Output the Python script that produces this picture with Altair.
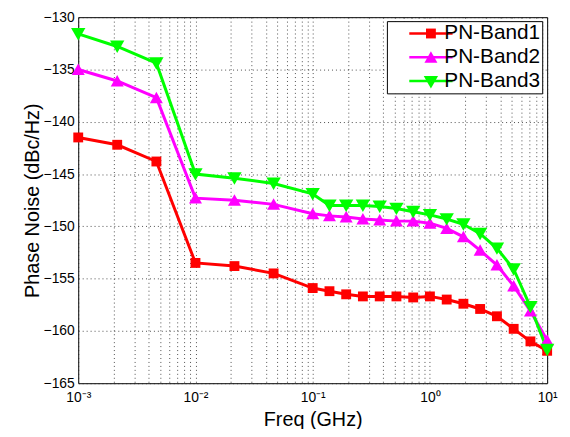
import altair as alt
import pandas as pd

# ---- data ----
freq = [0.001, 0.00215, 0.00464, 0.01, 0.0215, 0.0464, 0.1, 0.139, 0.193, 0.268,
        0.373, 0.518, 0.720, 1.0, 1.39, 1.93, 2.68, 3.73, 5.18, 7.20, 10.0]
band1 = [-141.5, -142.2, -143.8, -153.5, -153.8, -154.5, -155.9, -156.2, -156.5, -156.7,
         -156.7, -156.7, -156.8, -156.7, -157.0, -157.4, -157.9, -158.6, -159.8, -161.0, -161.9]
band2 = [-135.0, -136.1, -137.7, -147.3, -147.5, -147.9, -148.8, -149.0, -149.1, -149.3,
         -149.4, -149.5, -149.5, -149.7, -150.2, -151.0, -152.3, -153.7, -155.7, -158.1, -160.9]
band3 = [-131.6, -132.8, -134.4, -145.0, -145.4, -145.9, -146.9, -148.0, -148.0, -148.0,
         -148.1, -148.3, -148.6, -148.9, -149.3, -149.8, -150.7, -152.1, -154.1, -157.7, -161.8]
series_names = ["PN-Band1", "PN-Band2", "PN-Band3"]
series_colors = ["#ff0000", "#ff00ff", "#00ff00"]

x_tick_values = [0.001, 0.002, 0.003, 0.004, 0.005, 0.006, 0.007, 0.008, 0.009,
                 0.01, 0.02, 0.03, 0.04, 0.05, 0.06, 0.07, 0.08, 0.09,
                 0.1, 0.2, 0.3, 0.4, 0.5, 0.6, 0.7, 0.8, 0.9,
                 1, 2, 3, 4, 5, 6, 7, 8, 9, 10]
x_tick_labels = {0.001: "10⁻³", 0.01: "10⁻²", 0.1: "10⁻¹", 1: "10⁰", 10: "10¹"}
y_tick_values = [-165, -160, -155, -150, -145, -140, -135, -130]

rows = []
for name, vals in zip(series_names, [band1, band2, band3]):
    for f, v in zip(freq, vals):
        rows.append({"series": name, "series2": name, "freq": f, "pn": v})
df = pd.DataFrame(rows)

label_expr = ""
for v, t in x_tick_labels.items():
    label_expr += f"datum.value == {v} ? '{t}' : "
label_expr += "''"

FONT = "Liberation Sans"
SYM = 306  # symbol area; sqrt = 17.5 px

# marker paths (unit box -1..1, scaled by sqrt(size)/2)
marker_paths = [
    "M-0.57,-0.57H0.57V0.57H-0.57Z",
    "M0,-0.7L0.75,0.63L-0.75,0.63Z",
    "M0,0.75L0.83,-0.68L-0.83,-0.68Z",
]

GRID = dict(grid=True, gridDash=[1, 3], gridColor="#222", gridOpacity=0.8)

x_enc = alt.X("freq:Q",
              scale=alt.Scale(type="log", domain=[0.001, 10], nice=False),
              axis=alt.Axis(values=x_tick_values, labelExpr=label_expr, title="Freq (GHz)",
                            ticks=False, domain=False, labelFlush=False, labelOverlap=False,
                            labelFont=FONT, labelFontSize=14, labelColor="black",
                            labelPadding=7, titleFont=FONT, titleFontSize=20,
                            titleFontWeight="normal", titleColor="black", titlePadding=6,
                            **GRID))
y_enc = alt.Y("pn:Q",
              scale=alt.Scale(domain=[-165, -130], nice=False, zero=False),
              axis=alt.Axis(values=y_tick_values, title="Phase Noise (dBc/Hz)",
                            ticks=False, domain=False, labelFlush=False,
                            labelFont=FONT, labelFontSize=14, labelColor="black",
                            labelPadding=4, titleFont=FONT, titleFontSize=20,
                            titleFontWeight="normal", titleColor="black", titlePadding=1,
                            **GRID))

common_legend = dict(title=None, orient="none", legendX=312, legendY=4,
                     symbolSize=SYM, symbolStrokeWidth=2.5, symbolOffset=32,
                     labelOffset=3, labelFont=FONT, labelFontSize=21, padding=2,
                     rowPadding=2, labelLimit=400)

lines = alt.Chart(df).mark_line(strokeWidth=3).encode(
    x=x_enc, y=y_enc,
    color=alt.Color("series:N",
                    scale=alt.Scale(domain=series_names, range=series_colors),
                    legend=alt.Legend(symbolType="M-2.5,0H2.5", fillColor="white",
                                      strokeColor="black", labelColor="black",
                                      zindex=1, **common_legend)),
)

marker_legend = alt.Legend(labelExpr="''", symbolStrokeColor="transparent",
                           symbolOpacity=1, zindex=2, **common_legend)

points = alt.Chart(df).mark_point(filled=True, size=SYM, strokeWidth=0, opacity=1).encode(
    x=x_enc, y=y_enc,
    fill=alt.Fill("series2:N", scale=alt.Scale(range=series_colors), legend=marker_legend),
    shape=alt.Shape("series2:N", scale=alt.Scale(range=marker_paths), legend=marker_legend),
)

chart = alt.layer(lines, points).properties(
    width=474, height=370,
    autosize=alt.AutoSizeParams(type="none"),
    padding={"left": 71, "top": 7, "right": 15, "bottom": 44},
    background="white",
).configure_view(stroke="black", strokeWidth=1)

chart.save("out.html", embed_options={"renderer": "svg", "actions": False})
